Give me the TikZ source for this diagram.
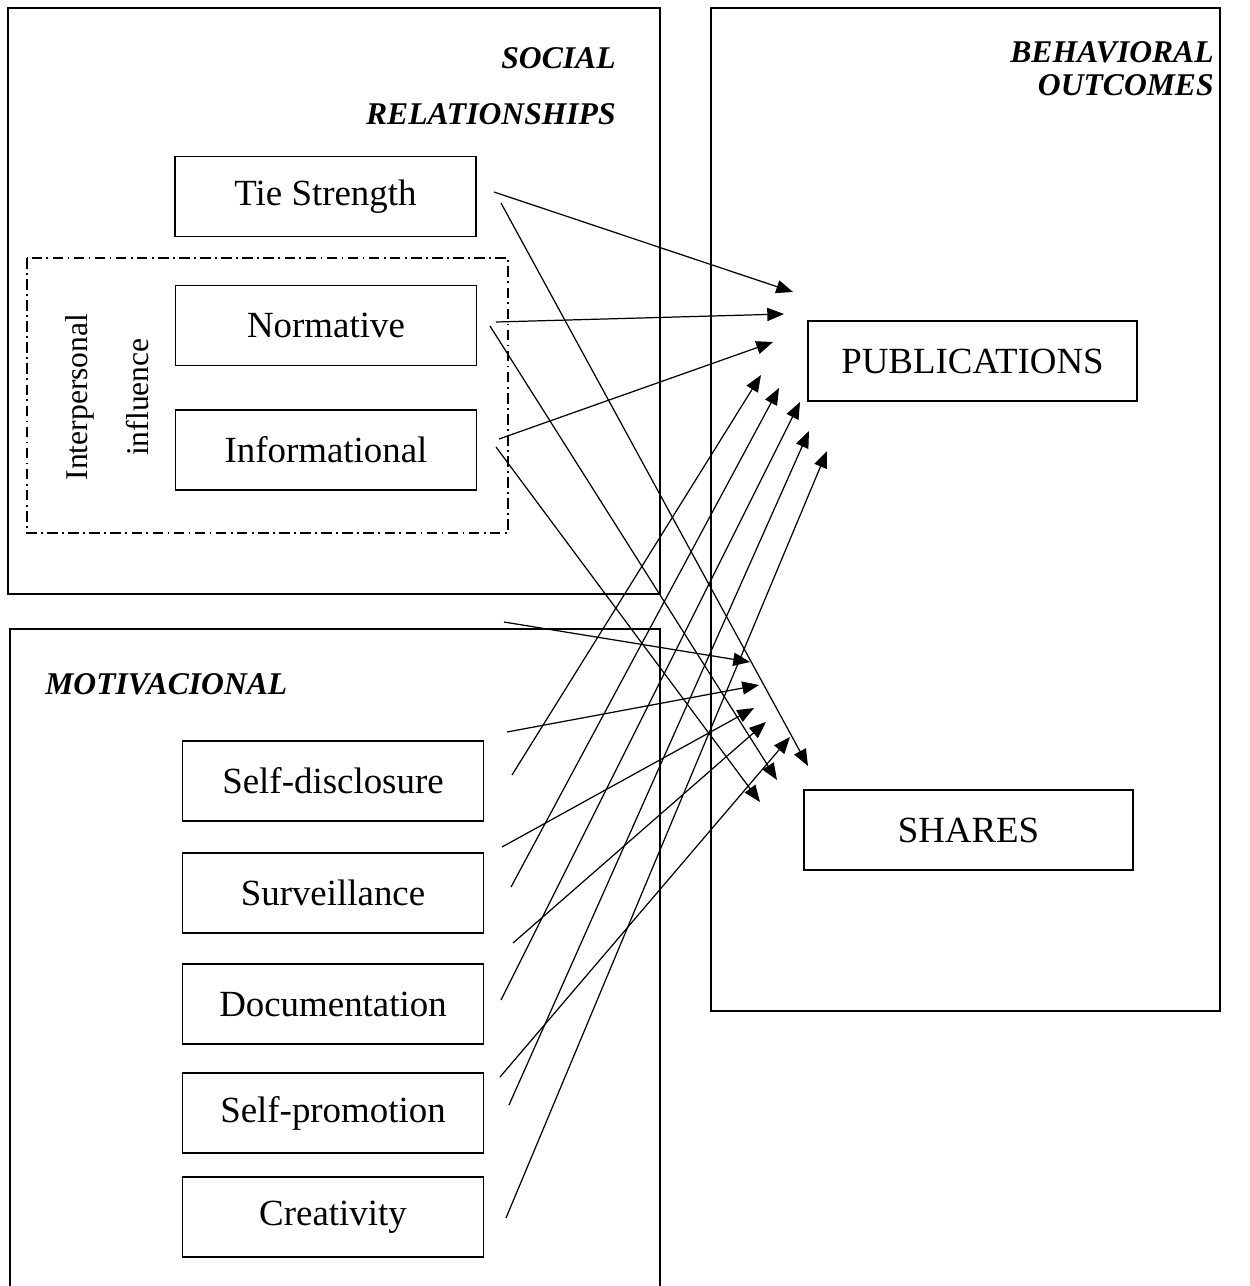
\documentclass[tikz,border=0pt]{standalone}
\usepackage{fontspec}
\setmainfont{Liberation Serif}
\usetikzlibrary{arrows.meta}

\begin{document}
\begin{tikzpicture}[
    x=0.02cm,y=-0.02cm,
    font=\fontsize{21}{25}\selectfont,
    cornice/.style={draw,line width=1.1pt},
    riquadro/.style={draw,line width=1.1pt,minimum width=6.02cm,minimum height=1.6cm,inner sep=0pt},
    titolo/.style={font=\fontsize{18}{22}\selectfont\bfseries\itshape,inner sep=0pt},
    gruppo/.style={font=\fontsize{18}{22}\selectfont,rotate=90,inner sep=0pt},
    tratteggio/.style={line width=1.1pt,dash pattern=on 6pt off 2.5pt on 1pt off 2.5pt},
    freccia/.style={-{Triangle[length=9.5pt,width=7.5pt]},line width=0.7pt}]

  \useasboundingbox (0,0) rectangle (1250,1286);

  % ---- cornici dei tre blocchi ----------------------------------------------
  \draw[cornice] (8,8) rectangle (660,594);
  \draw[cornice] (711,8) rectangle (1220,1011);
  \draw[cornice] (10,1290) |- (660,629) -- (660,1290);
  \draw[tratteggio] (27,258) rectangle (508,533);

  \node[titolo,anchor=east] (socA) at (616,58)  {SOCIAL};
  \node[titolo,anchor=east] (socB) at (616,114) {RELATIONSHIPS};
  \node[titolo,anchor=east] (behA) at (1214,52) {BEHAVIORAL};
  \node[titolo,anchor=east] (behB) at (1214,85) {OUTCOMES};
  \node[titolo,anchor=west] (moti) at (45,684)  {MOTIVACIONAL};
  \node[gruppo] (inter) at (80,397)  {Interpersonal};
  \node[gruppo] (influ) at (138,397) {influence};

  % ---- variabili --------------------------------------------------------------
  \node[riquadro] (tie) at (325.5,196.5) {Tie Strength};
  \node[riquadro] (nor) at (326,325.5)   {Normative};
  \node[riquadro] (inf) at (326,450)     {Informational};
  \node[riquadro] (sd)  at (333,781)     {Self-disclosure};
  \node[riquadro] (sv)  at (333,893)     {Surveillance};
  \node[riquadro] (doc) at (333,1004)    {Documentation};
  \node[riquadro] (sp)  at (333,1113)    {Self-promotion};
  \node[riquadro] (cr)  at (333,1217)    {Creativity};
  \node[riquadro,minimum width=6.58cm] (pub) at (972.5,361) {PUBLICATIONS};
  \node[riquadro,minimum width=6.58cm] (sha) at (968.5,830) {SHARES};

  % ---- estremi liberi delle frecce -------------------------------------------
  \coordinate (tie-p) at (494,192);   \coordinate (tie-s) at (501,203);
  \coordinate (nor-p) at (496,322);   \coordinate (nor-s) at (490,326);
  \coordinate (inf-p) at (499,439);   \coordinate (inf-s) at (496,447);
  \coordinate (sd-p)  at (512,775);   \coordinate (sd-s)  at (502,847);
  \coordinate (sv-p)  at (511,887);   \coordinate (sv-s)  at (513,943);
  \coordinate (doc-p) at (501,1000);  \coordinate (doc-s) at (500,1077);
  \coordinate (sp-p)  at (509,1105);  \coordinate (cr-p)  at (506,1218);
  \coordinate (xa-s)  at (504,622);   \coordinate (xb-s)  at (507,732);

  \coordinate (pub-1) at (793,292);   \coordinate (pub-2) at (784,314);
  \coordinate (pub-3) at (773,342);   \coordinate (pub-4) at (761,375);
  \coordinate (pub-5) at (779,388);   \coordinate (pub-6) at (800,402);
  \coordinate (pub-7) at (809,431);   \coordinate (pub-8) at (827,451);
  \coordinate (sha-1) at (808,766);   \coordinate (sha-2) at (777,780);
  \coordinate (sha-3) at (760,802);   \coordinate (sha-4) at (750,662);
  \coordinate (sha-5) at (759,685);   \coordinate (sha-6) at (754,708);
  \coordinate (sha-7) at (766,722);   \coordinate (sha-8) at (790,737);

  % ---- frecce -------------------------------------------------------------------
  \draw[freccia] (tie-p) -- (pub-1);
  \draw[freccia] (nor-p) -- (pub-2);
  \draw[freccia] (inf-p) -- (pub-3);
  \draw[freccia] (sd-p)  -- (pub-4);
  \draw[freccia] (sv-p)  -- (pub-5);
  \draw[freccia] (doc-p) -- (pub-6);
  \draw[freccia] (sp-p)  -- (pub-7);
  \draw[freccia] (cr-p)  -- (pub-8);

  \draw[freccia] (tie-s) -- (sha-1);
  \draw[freccia] (nor-s) -- (sha-2);
  \draw[freccia] (inf-s) -- (sha-3);
  \draw[freccia] (xa-s)  -- (sha-4);
  \draw[freccia] (xb-s)  -- (sha-5);
  \draw[freccia] (sd-s)  -- (sha-6);
  \draw[freccia] (sv-s)  -- (sha-7);
  \draw[freccia] (doc-s) -- (sha-8);

\end{tikzpicture}
\end{document}
